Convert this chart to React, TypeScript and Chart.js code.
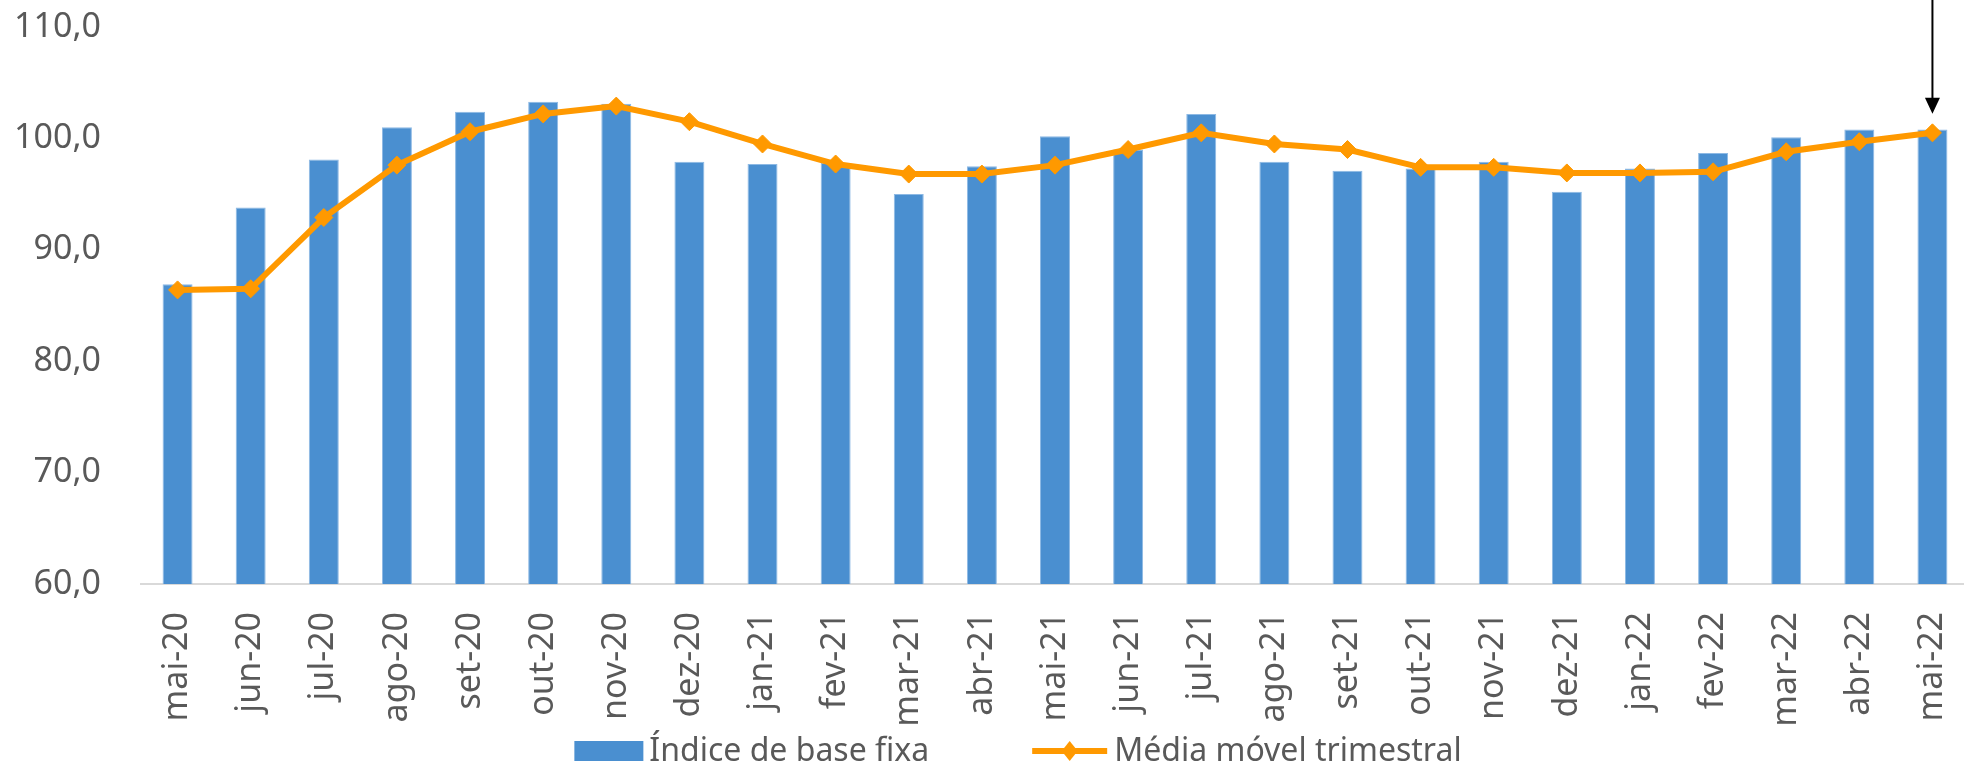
import React, { useEffect, useRef } from "react";
import { Chart, registerables } from "chart.js";

Chart.register(...registerables);

const categories = [
  "mai-20", "jun-20", "jul-20", "ago-20", "set-20", "out-20", "nov-20", "dez-20",
  "jan-21", "fev-21", "mar-21", "abr-21", "mai-21", "jun-21", "jul-21", "ago-21",
  "set-21", "out-21", "nov-21", "dez-21", "jan-22", "fev-22", "mar-22", "abr-22", "mai-22",
];

const indiceBaseFixa = [
  86.9, 93.8, 98.1, 101.0, 102.4, 103.3, 103.1, 97.9,
  97.7, 97.8, 95.0, 97.5, 100.2, 99.0, 102.2, 97.9,
  97.1, 97.3, 97.9, 95.2, 97.3, 98.7, 100.1, 100.8, 100.8,
];

const mediaMovel = [
  86.4, 86.5, 92.9, 97.6, 100.6, 102.2, 102.9, 101.5,
  99.5, 97.7, 96.8, 96.8, 97.6, 99.0, 100.5, 99.5,
  99.0, 97.4, 97.4, 96.9, 96.9, 97.0, 98.8, 99.7, 100.5,
];

const seriesNames = ["Índice de base fixa", "Média móvel trimestral"];
const yMin = 60;
const yMax = 110;
const yStep = 10;

const BLUE = "#4a8fd0";
const BLUE_EDGE = "#8db9e4";
const ORANGE = "#ff9900";
const TEXT = "#595959";
const FONT = "'Noto Sans', 'Open Sans', sans-serif";

const overlayPlugin = {
  id: "overlay",
  afterDraw(chart: any) {
    const ctx = chart.ctx as CanvasRenderingContext2D;
    ctx.save();
    // arrow pointing to last moving-average point
    const meta = chart.getDatasetMeta(0);
    const last = meta.data[meta.data.length - 1];
    if (last) {
      const ax = last.x;
      const tipY = last.y - 19;
      ctx.strokeStyle = "#000";
      ctx.lineWidth = 2;
      ctx.beginPath();
      ctx.moveTo(ax, 0);
      ctx.lineTo(ax, tipY - 12);
      ctx.stroke();
      ctx.fillStyle = "#000";
      ctx.beginPath();
      ctx.moveTo(ax - 7.5, tipY - 16);
      ctx.lineTo(ax + 7.5, tipY - 16);
      ctx.lineTo(ax, tipY);
      ctx.closePath();
      ctx.fill();
    }
    // legend
    ctx.font = `32px ${FONT}`;
    ctx.textBaseline = "middle";
    ctx.textAlign = "left";
    const w1 = ctx.measureText(seriesNames[0]).width;
    const w2 = ctx.measureText(seriesNames[1]).width;
    const boxW = 69, gapA = 6, gapB = 103, lineW = 75, gapC = 7;
    const total = boxW + gapA + w1 + gapB + lineW + gapC + w2;
    const cx = 1018;
    const ly = 751;
    let x = cx - total / 2;
    ctx.fillStyle = BLUE;
    ctx.fillRect(x, ly - 10, boxW, 20);
    x += boxW + gapA;
    ctx.fillStyle = TEXT;
    ctx.fillText(seriesNames[0], x, ly + 1);
    x += w1 + gapB;
    ctx.strokeStyle = ORANGE;
    ctx.lineWidth = 6;
    ctx.beginPath();
    ctx.moveTo(x, ly);
    ctx.lineTo(x + lineW, ly);
    ctx.stroke();
    const mx = x + lineW / 2;
    ctx.fillStyle = ORANGE;
    ctx.beginPath();
    ctx.moveTo(mx, ly - 10);
    ctx.lineTo(mx + 8, ly);
    ctx.lineTo(mx, ly + 10);
    ctx.lineTo(mx - 8, ly);
    ctx.closePath();
    ctx.fill();
    x += lineW + gapC;
    ctx.fillStyle = TEXT;
    ctx.fillText(seriesNames[1], x, ly + 1);
    ctx.restore();
  },
};

export default function App() {
  const canvasRef = useRef<HTMLCanvasElement | null>(null);

  useEffect(() => {
    if (!canvasRef.current) return;
    Chart.defaults.font.family = FONT;
    const chart = new Chart(canvasRef.current, {
      type: "bar",
      data: {
        labels: categories,
        datasets: [
          {
            type: "line",
            label: seriesNames[1],
            data: mediaMovel,
            borderColor: ORANGE,
            backgroundColor: ORANGE,
            borderWidth: 6,
            pointStyle: "rectRot",
            pointRadius: 9,
            pointBackgroundColor: ORANGE,
            pointBorderColor: ORANGE,
            pointBorderWidth: 1,
            tension: 0,
            order: 0,
          } as any,
          {
            type: "bar",
            label: seriesNames[0],
            data: indiceBaseFixa,
            backgroundColor: BLUE,
            borderColor: BLUE_EDGE,
            borderWidth: 1,
            barPercentage: 0.41,
            categoryPercentage: 1,
            order: 1,
          } as any,
        ],
      },
      options: {
        animation: false,
        responsive: true,
        maintainAspectRatio: false,
        layout: { padding: { top: 27, left: 0, right: 0, bottom: 0 } },
        plugins: {
          legend: { display: false },
          tooltip: { enabled: false },
        },
        scales: {
          x: {
            grid: { display: false, drawTicks: false },
            border: { display: true, color: "#d9d9d9", width: 2 },
            ticks: {
              color: TEXT,
              font: { size: 34 },
              minRotation: 90,
              maxRotation: 90,
              autoSkip: false,
              padding: 28,
            },
            afterFit: (scale: any) => {
              scale.height = 186;
              scale.paddingLeft = 0;
              scale.paddingRight = 0;
            },
          },
          y: {
            min: yMin,
            max: yMax,
            grid: { display: false, drawTicks: false },
            border: { display: false },
            ticks: {
              stepSize: yStep,
              color: TEXT,
              font: { size: 34 },
              padding: 40,
              callback: (v: any) => Number(v).toFixed(1).replace(".", ","),
            },
            afterFit: (scale: any) => {
              scale.width = 141;
              scale.paddingTop = 0;
              scale.paddingBottom = 0;
            },
          },
        },
      },
      plugins: [overlayPlugin],
    });
    return () => chart.destroy();
  }, []);

  return (
    <div
      style={{
        position: "fixed",
        left: 0,
        top: 0,
        width: 1964,
        height: 770,
        overflow: "hidden",
        background: "#fff",
      }}
    >
      <div style={{ position: "relative", width: 1979, height: 770 }}>
        <canvas ref={canvasRef} />
      </div>
    </div>
  );
}
